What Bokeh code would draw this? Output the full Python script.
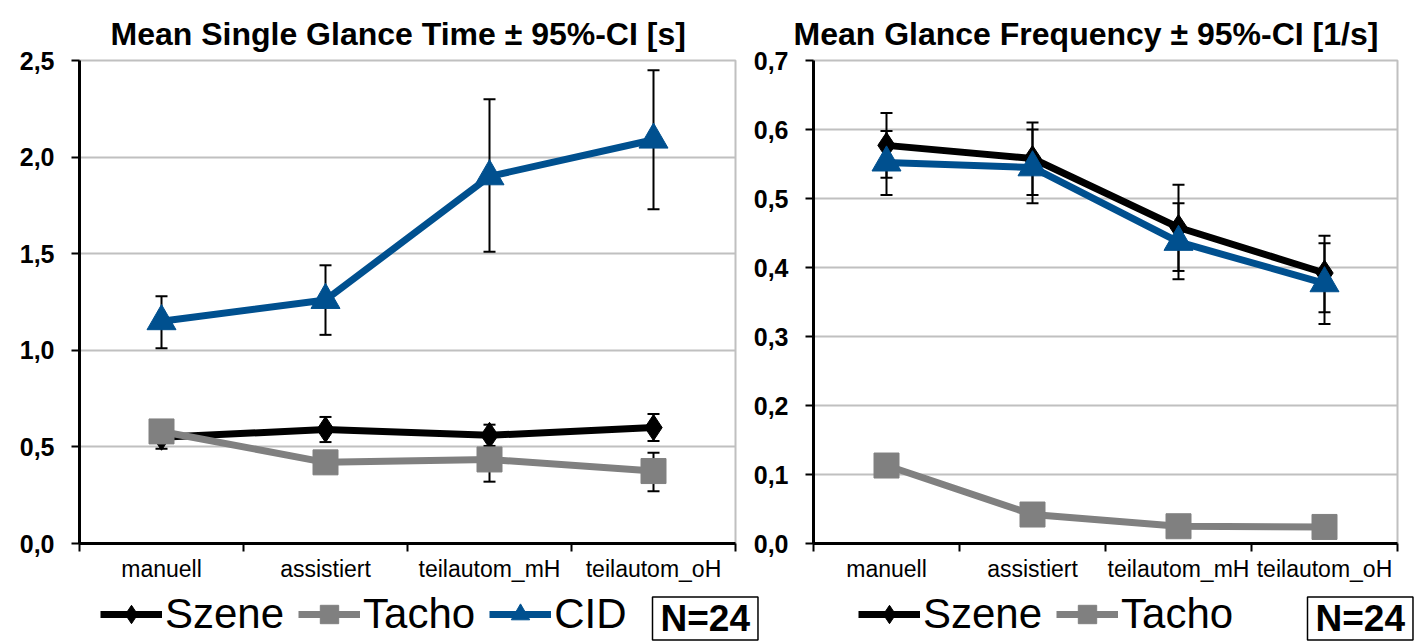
from bokeh.plotting import figure
from bokeh.models import (Range1d, FixedTicker, CustomJSTickFormatter, Legend, LegendItem,
                          Label, Whisker, ColumnDataSource, TeeHead)
from bokeh.layouts import row, column
from bokeh.embed import file_html
from bokeh.resources import INLINE

categories = ["manuell", "assistiert", "teilautom_mH", "teilautom_oH"]

# Left chart: Mean Single Glance Time [s]
sgt_szene = [0.55, 0.59, 0.56, 0.60]
sgt_szene_lo = [0.49, 0.525, 0.505, 0.53]
sgt_szene_hi = [0.61, 0.655, 0.615, 0.67]
sgt_tacho = [0.58, 0.42, 0.435, 0.375]
sgt_tacho_lo = [0.54, 0.39, 0.32, 0.27]
sgt_tacho_hi = [0.62, 0.45, 0.55, 0.47]
sgt_cid = [1.15, 1.26, 1.90, 2.09]
sgt_cid_lo = [1.01, 1.08, 1.51, 1.73]
sgt_cid_hi = [1.28, 1.44, 2.30, 2.45]

# Right chart: Mean Glance Frequency [1/s]
gf_szene = [0.577, 0.558, 0.458, 0.392]
gf_szene_lo = [0.530, 0.505, 0.395, 0.335]
gf_szene_hi = [0.624, 0.610, 0.520, 0.446]
gf_tacho = [0.113, 0.042, 0.025, 0.024]
gf_cid = [0.552, 0.545, 0.437, 0.377]
gf_cid_lo = [0.505, 0.493, 0.383, 0.318]
gf_cid_hi = [0.598, 0.600, 0.493, 0.435]

legend_left = ["Szene", "Tacho", "CID"]
legend_right = ["Szene", "Tacho"]
n_text = "N=24"

BLACK = "#000000"
GRAY = "#808080"
BLUE = "#00508F"
FONT = "Liberation Sans"
MARKERS = [("diamond", 26, BLACK), ("square", 25, GRAY), ("triangle", 29, BLUE)]

xs = [i + 0.5 for i in range(len(categories))]

MAIN_H = 591


def make_fig(title, ymax, ystep, width, mbl, mbr, frame_h, title_offset):
    p = figure(width=width, height=MAIN_H, output_backend="svg", toolbar_location=None,
               x_range=Range1d(0, len(categories)), y_range=Range1d(0, ymax),
               min_border_left=mbl, min_border_right=mbr, min_border_top=60,
               min_border_bottom=MAIN_H - 60 - frame_h)
    p.title.text = title
    p.title.text_font = FONT
    p.title.text_font_size = "32px"
    p.title.text_font_style = "bold"
    p.title.text_color = BLACK
    p.title.align = "left"
    p.title.standoff = 17
    p.title.offset = title_offset
    p.outline_line_color = "#C0C0C0"
    p.outline_line_width = 2
    p.xgrid.visible = False
    p.ygrid.grid_line_color = "#C0C0C0"
    p.ygrid.grid_line_width = 2
    n = int(round(ymax / ystep))
    p.yaxis.ticker = FixedTicker(ticks=[round(i * ystep, 3) for i in range(n + 1)])
    p.yaxis.formatter = CustomJSTickFormatter(code="return tick.toFixed(1).replace('.', ',')")
    p.yaxis.minor_tick_line_color = None
    p.yaxis.major_tick_out = 8
    p.yaxis.major_tick_in = 0
    p.yaxis.major_tick_line_width = 2
    p.yaxis.axis_line_width = 3
    p.yaxis.major_label_standoff = 17
    p.yaxis.major_label_text_font = FONT
    p.yaxis.major_label_text_font_style = "bold"
    p.yaxis.major_label_text_font_size = "25px"
    p.yaxis.major_label_text_color = BLACK
    p.xaxis.ticker = FixedTicker(ticks=xs, minor_ticks=list(range(len(categories) + 1)))
    p.xaxis.major_label_overrides = {x: c for x, c in zip(xs, categories)}
    p.xaxis.major_tick_line_color = None
    p.xaxis.major_tick_out = 0
    p.xaxis.major_tick_in = 0
    p.xaxis.minor_tick_out = 8
    p.xaxis.minor_tick_in = 0
    p.xaxis.minor_tick_line_width = 2
    p.xaxis.minor_tick_line_color = BLACK
    p.xaxis.axis_line_width = 3
    p.xaxis.major_label_standoff = 4
    p.xaxis.major_label_text_font = FONT
    p.xaxis.major_label_text_font_size = "23px"
    p.xaxis.major_label_text_color = BLACK
    return p


def draw_chart(p, series, whiskers):
    srcs = []
    for vals, (mk, sz, col) in zip(series, MARKERS):
        src = ColumnDataSource(dict(x=xs, y=vals))
        p.line("x", "y", source=src, line_color=col, line_width=7)
        srcs.append(src)
    for lo, hi in whiskers:
        wsrc = ColumnDataSource(dict(x=xs, lo=lo, hi=hi))
        p.add_layout(Whisker(source=wsrc, base="x", lower="lo", upper="hi", line_color=BLACK,
                             line_width=2, level="underlay",
                             upper_head=TeeHead(size=12, line_width=2, line_color=BLACK),
                             lower_head=TeeHead(size=12, line_width=2, line_color=BLACK)))
    for src, (mk, sz, col) in zip(srcs, MARKERS):
        p.scatter("x", "y", source=src, marker=mk, size=sz, fill_color=col, line_color=col)


# ---- Left chart ----
p1 = make_fig("Mean Single Glance Time \u00b1 95%-CI [s]", 2.5, 0.5, 743, 79, 8, 487, 31)
draw_chart(p1, [sgt_szene, sgt_tacho, sgt_cid],
           [(sgt_szene_lo, sgt_szene_hi), (sgt_tacho_lo, sgt_tacho_hi), (sgt_cid_lo, sgt_cid_hi)])

# ---- Right chart ----
p2 = make_fig("Mean Glance Frequency \u00b1 95%-CI [1/s]", 0.7, 0.1, 666, 70, 12, 483, -20)
draw_chart(p2, [gf_szene, gf_tacho, gf_cid],
           [(gf_szene_lo, gf_szene_hi), (gf_cid_lo, gf_cid_hi)])

# ---- Legend strip (legends drawn from proxy renderers outside the visible range) ----
LEG_H = 51
pl = figure(width=1414, height=LEG_H, output_backend="svg", toolbar_location=None,
            x_range=Range1d(0, len(categories)), y_range=Range1d(-20, -19),
            x_axis_type=None, y_axis_type=None, min_border=0)
pl.outline_line_color = None
pl.grid.visible = False


def proxy_items(names, series):
    items = []
    for name, vals, (mk, sz, col) in zip(names, series, MARKERS):
        src = ColumnDataSource(dict(x=xs, y=vals))
        lr = pl.line("x", "y", source=src, line_color=col, line_width=7)
        sr = pl.scatter("x", "y", source=src, marker=mk, size=sz, fill_color=col, line_color=col)
        items.append(LegendItem(label=name, renderers=[lr, sr]))
    return items


def add_legend(items, loc):
    pl.add_layout(Legend(items=items, orientation="horizontal", location=loc,
                         label_text_font=FONT, label_text_font_size="42px",
                         label_text_color=BLACK, glyph_width=62, glyph_height=46,
                         label_height=46, label_standoff=3, spacing=14, padding=0, margin=0,
                         border_line_color=None, background_fill_alpha=0))


def add_n(x):
    pl.add_layout(Label(x=x, y=24, x_units="screen", y_units="screen", text=n_text,
                        text_font=FONT, text_font_size="37px", text_font_style="bold",
                        text_baseline="middle", text_align="left", text_color=BLACK,
                        border_line_color=BLACK, border_line_width=1.5,
                        background_fill_color="white", padding=(8, 1)))


add_legend(proxy_items(legend_left, [sgt_szene, sgt_tacho, sgt_cid]), (100, 4))
add_legend(proxy_items(legend_right, [gf_szene, gf_tacho]), (858, 4))
add_n(652)
add_n(1307)

layout = column(row(p1, p2), pl)
open("out.html", "w").write(file_html(layout, INLINE))
